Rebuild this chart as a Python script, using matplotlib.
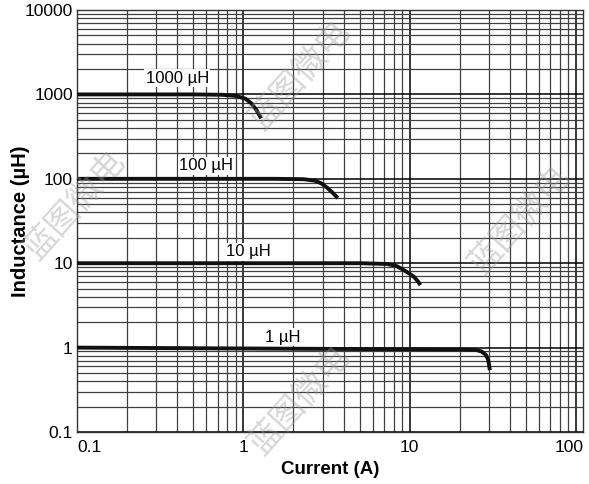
import matplotlib
matplotlib.use("Agg")
from matplotlib import pyplot as plt
from matplotlib.ticker import LogLocator, NullFormatter, FixedLocator, FixedFormatter
from matplotlib.transforms import ScaledTranslation

plt.rcParams['font.family'] = ['Liberation Sans', 'DejaVu Sans']

# curve data (current in A, inductance in uH)
i_1000 = [0.1, 0.5, 0.75, 0.9, 1.03, 1.12, 1.2, 1.28]
l_1000 = [1000, 1000, 990, 960, 890, 780, 650, 520]

i_100 = [0.1, 1.5, 2.3, 2.7, 2.95, 3.2, 3.45, 3.7]
l_100 = [100, 100, 99, 95, 88, 78, 68, 59]

i_10 = [0.1, 5, 7.3, 8.3, 9.2, 10.0, 10.6, 11.2, 11.6]
l_10 = [10, 10, 9.8, 9.3, 8.3, 7.5, 6.9, 6.1, 5.5]

i_1 = [0.1, 2, 20, 25, 27, 28.7, 29.6, 30.0, 30.3]
l_1 = [1.0, 0.97, 0.95, 0.94, 0.9, 0.82, 0.72, 0.62, 0.54]

curves = [(i_1000, l_1000), (i_100, l_100), (i_10, l_10), (i_1, l_1)]

curve_labels = ['1000 µH', '100 µH', '10 µH', '1 µH']
label_x = [0.40, 0.60, 1.07, 1.73]
label_y = [1565, 142, 13.6, 1.33]

x_ticks = [0.1, 1, 10, 100]
x_tick_labels = ['0.1', '1', '10', '100']
y_ticks = [0.1, 1, 10, 100, 1000, 10000]
y_tick_labels = ['0.1', '1', '10', '100', '1000', '10000']

watermark = '蓝图微电'

fig = plt.figure(figsize=(5.89, 4.84), dpi=100)
ax = fig.add_axes([0.1307, 0.1074, 0.8591, 0.8719])

ax.set_xscale('log')
ax.set_yscale('log')
ax.set_xlim(0.1, 110)
ax.set_ylim(0.1, 10000)

ax.xaxis.set_major_locator(FixedLocator(x_ticks))
ax.xaxis.set_major_formatter(FixedFormatter(x_tick_labels))
ax.yaxis.set_major_locator(FixedLocator(y_ticks))
ax.yaxis.set_major_formatter(FixedFormatter(y_tick_labels))
ax.xaxis.set_minor_locator(LogLocator(base=10, subs=range(2, 10), numticks=20))
ax.yaxis.set_minor_locator(LogLocator(base=10, subs=range(2, 10), numticks=20))
ax.xaxis.set_minor_formatter(NullFormatter())
ax.yaxis.set_minor_formatter(NullFormatter())

ax.grid(which='major', color='black', lw=1.1)
ax.grid(which='minor', color='0.25', lw=0.9)
ax.set_axisbelow(True)
ax.tick_params(which='both', length=0)
ax.tick_params(axis='x', pad=6, labelsize=12.5)
ax.tick_params(axis='y', pad=3, labelsize=12.5)
for s in ax.spines.values():
    s.set_color('0.2')
    s.set_linewidth(1.0)

for cx, cy in curves:
    ax.plot(cx, cy, color='#111111', lw=2.8, solid_capstyle='butt', zorder=3)

for txt, tx, ty in zip(curve_labels, label_x, label_y):
    ax.text(tx, ty, txt, ha='center', va='center', fontsize=12, zorder=4,
            bbox=dict(facecolor='white', edgecolor='none', pad=0.8))

fig.canvas.draw()
xl = ax.get_xticklabels()
xl[0].set_ha('left')
xl[-1].set_transform(xl[-1].get_transform() + ScaledTranslation(-0.07, 0, fig.dpi_scale_trans))

ax.set_xlabel('Current (A)', fontsize=13.5, fontweight='bold')
ax.xaxis.set_label_coords(0.5, -0.068)
ax.set_ylabel('Inductance (µH)', fontsize=14.5, fontweight='bold')
ax.yaxis.set_label_coords(-0.092, 0.5)

# faint diagonal watermark
for wx, wy in [(75, 205), (300, 400), (520, 220), (300, 75)]:
    fig.text(wx / 589, 1 - wy / 484, watermark, fontsize=24, rotation=48,
             family=['Noto Sans CJK SC', 'DejaVu Sans'], color='0.6', alpha=0.4,
             ha='center', va='center', zorder=10)

fig.savefig('out.png', dpi=100)
